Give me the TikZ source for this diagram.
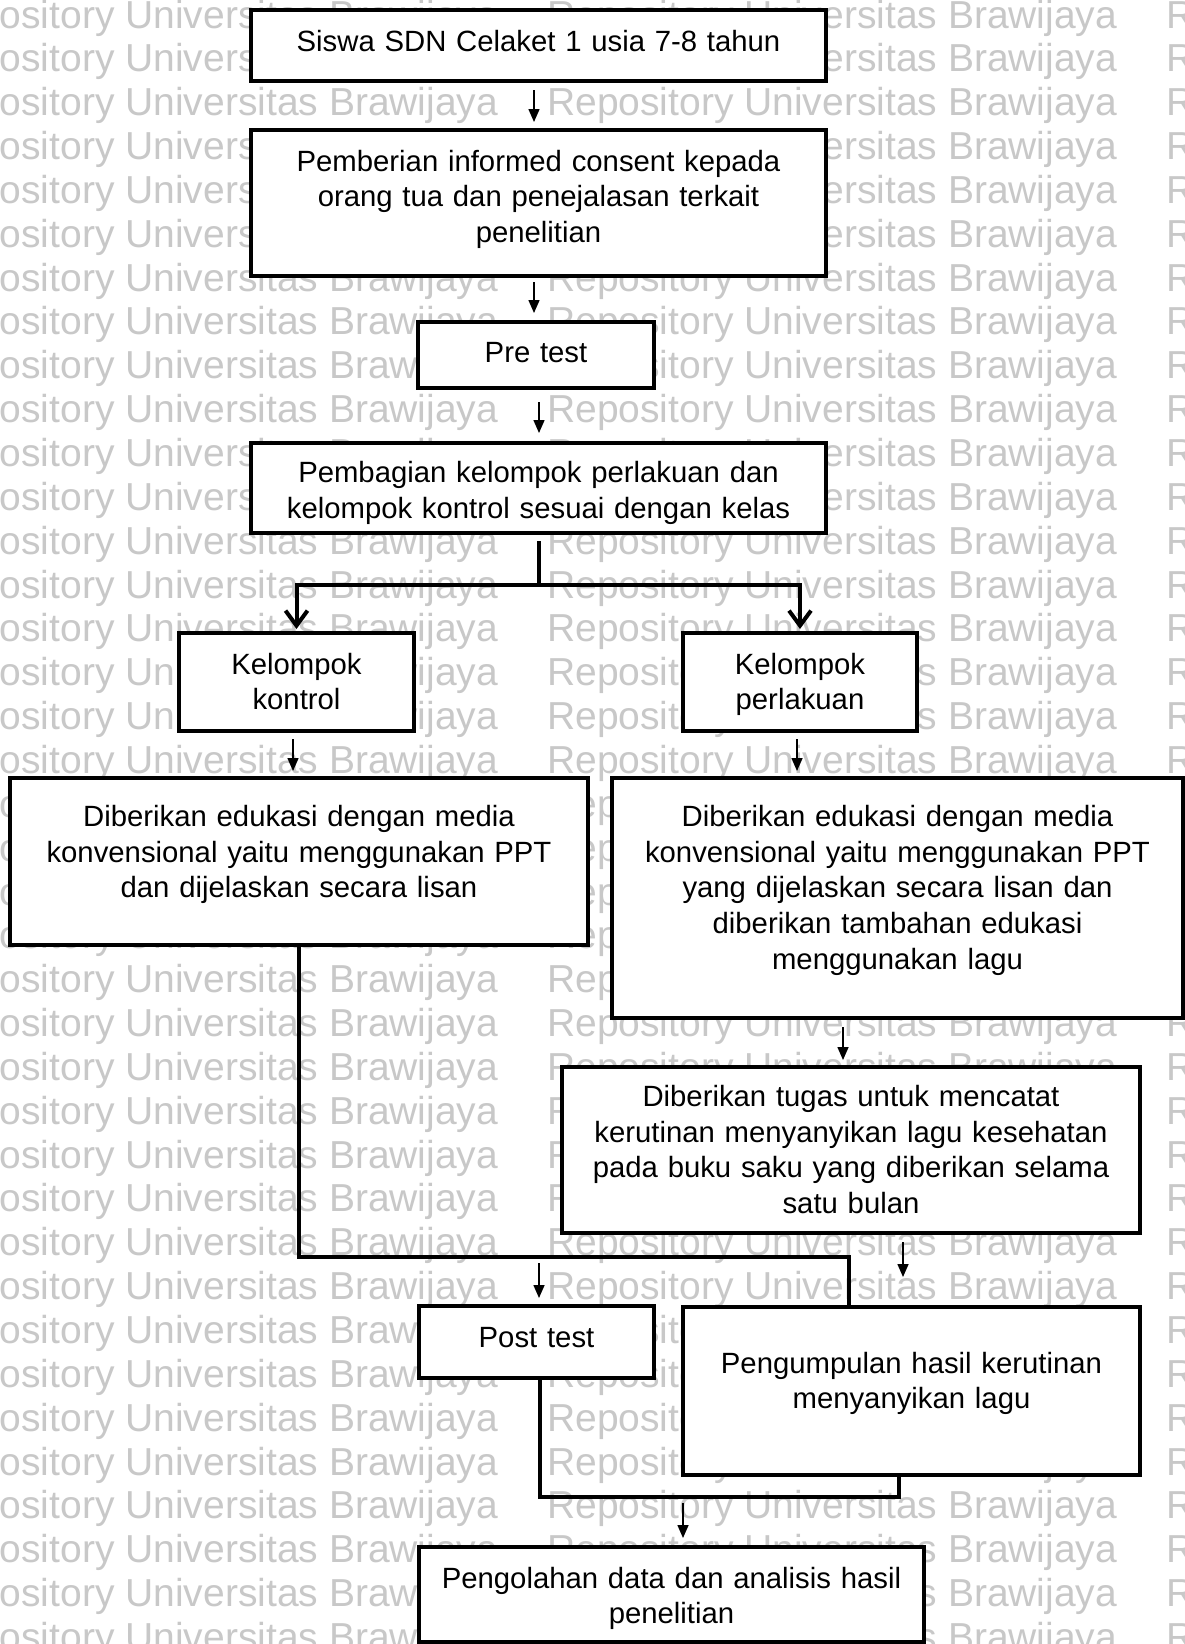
\documentclass[tikz,border=0pt]{standalone}
\usepackage{fontspec}
\setmainfont{Liberation Sans}
\usetikzlibrary{arrows.meta,calc}
\definecolor{wmgray}{RGB}{200,200,200}
\newcommand\boxfont{\fontsize{29.3}{35.7}\selectfont}
\newcommand\wmfont{\fontsize{39}{44}\selectfont}
\begin{document}
\begin{tikzpicture}[x=1pt,y=-1pt,
  box/.style={draw=black, fill=white, line width=4pt, rectangle, inner sep=0pt},
  txt/.style={anchor=base, align=center, font=\boxfont, inner sep=0pt, text=black},
  wm/.style={anchor=base west, font=\wmfont, text=wmgray, inner sep=0pt},
  thinarr/.style={line width=1.5pt, -{Triangle[width=11pt,length=13pt]}},
  thickline/.style={line width=4pt},
  thickv/.style={line width=4pt, -{Straight Barb[length=15pt,width=22pt]}},
]
\useasboundingbox (0,0) rectangle (1185,1644);
\fill[white] (0,0) rectangle (1185,1644);
% watermark
\begin{scope}
\clip (0,0) rectangle (1185,1644);
\foreach \k in {0,...,37}{
  \pgfmathsetmacro\yy{28+43.85*\k}
  \node[wm] (wma\k) at (-72,\yy) {Repository Universitas Brawijaya};
  \node[wm] (wmb\k) at (547,\yy) {Repository Universitas Brawijaya};
  \node[wm] (wmc\k) at (1166,\yy) {Repository Universitas Brawijaya};
}
\end{scope}

% boxes
\node[box, minimum width=575pt, minimum height=71pt]  (b1)  at (538.5,45.5) {};
\node[box, minimum width=575pt, minimum height=146pt] (b2)  at (538.5,203) {};
\node[box, minimum width=236pt, minimum height=66pt]  (b3)  at (536,355) {};
\node[box, minimum width=575pt, minimum height=90pt]  (b4)  at (538.5,488) {};
\node[box, minimum width=235pt, minimum height=98pt]  (b5)  at (296.5,682) {};
\node[box, minimum width=234pt, minimum height=98pt]  (b6)  at (800,682) {};
\node[box, minimum width=578pt, minimum height=167pt] (b7)  at (299,861.5) {};
\node[box, minimum width=571pt, minimum height=240pt] (b8)  at (897.5,898) {};
\node[box, minimum width=578pt, minimum height=166pt] (b9)  at (851,1150) {};
\node[box, minimum width=235pt, minimum height=72pt]  (b10) at (536.5,1342) {};
\node[box, minimum width=457pt, minimum height=168pt] (b11) at (911.5,1391) {};
\node[box, minimum width=505pt, minimum height=95pt]  (b12) at (671.5,1594.5) {};

% texts
\node[txt, text width=560pt] (b1t) at (538.5,51) {Siswa SDN Celaket 1 usia 7-8 tahun};
\node[txt, text width=560pt] (b2t) at (538.5,171) {Pemberian informed consent kepada\\orang tua dan penejalasan terkait\\penelitian};
\node[txt, text width=220pt] (b3t) at (536,362.5) {Pre test};
\node[txt, text width=560pt] (b4t) at (538.5,482.5) {Pembagian kelompok perlakuan dan\\kelompok kontrol sesuai dengan kelas};
\node[txt, text width=220pt] (b5t) at (296.5,674) {Kelompok\\kontrol};
\node[txt, text width=220pt] (b6t) at (800,674) {Kelompok\\perlakuan};
\node[txt, text width=560pt] (b7t) at (299,826.5) {Diberikan edukasi dengan media\\konvensional yaitu menggunakan PPT\\dan dijelaskan secara lisan};
\node[txt, text width=555pt] (b8t) at (897.5,826.5) {Diberikan edukasi dengan media\\konvensional yaitu menggunakan PPT\\yang dijelaskan secara lisan dan\\diberikan tambahan edukasi\\menggunakan lagu};
\node[txt, text width=560pt] (b9t) at (851,1106.5) {Diberikan tugas untuk mencatat\\kerutinan menyanyikan lagu kesehatan\\pada buku saku yang diberikan selama\\satu bulan};
\node[txt, text width=220pt] (b10t) at (536.5,1347.5) {Post test};
\node[txt, text width=440pt] (b11t) at (911.5,1373) {Pengumpulan hasil kerutinan\\menyanyikan lagu};
\node[txt, text width=490pt] (b12t) at (671.5,1588) {Pengolahan data dan analisis hasil\\penelitian};

% junction coordinates
\coordinate (split) at (539,585);
\coordinate (j1) at (849,1257);
\coordinate (j2) at (539,1257);
\coordinate (j3) at (540,1497);
\coordinate (j4) at (899,1497);
\coordinate (j5) at (683,1497);
\coordinate (a9end) at (903,1277);

% thin arrows between boxes
\draw[thinarr, shorten <=7pt, shorten >=6pt] (534,0 |- b1.south) -- (534,0 |- b2.north);
\draw[thinarr, shorten <=4pt, shorten >=7pt] (534,0 |- b2.south) -- (534,0 |- b3.north);
\draw[thinarr, shorten <=12pt, shorten >=8pt] (539,0 |- b3.south) -- (539,0 |- b4.north);
\draw[thinarr, shorten <=6pt, shorten >=5pt] (293,0 |- b5.south) -- (293,0 |- b7.north);
\draw[thinarr, shorten <=6pt, shorten >=5pt] (797,0 |- b6.south) -- (797,0 |- b8.north);
\draw[thinarr, shorten <=7pt, shorten >=5pt] (843,0 |- b8.south) -- (843,0 |- b9.north);
\draw[thinarr, shorten <=7pt] (a9end |- b9.south) -- (a9end);

% split after grouping
\draw[thickline, shorten <=6pt] (split |- b4.south) -- (split);
\draw[thickv, shorten >=2pt] (split) -| (b5.north);
\draw[thickv, shorten >=2pt] (split) -| (b6.north);

% control branch line
\draw[thickline] (b7.south) |- (j1) -- (j1 |- b11.north);
\draw[thinarr, shorten <=6pt, shorten >=6pt] (j2) -- (j2 |- b10.north);

% bottom loop
\draw[thickline] (j3 |- b10.south) -- (j3) -- (j4) -- (j4 |- b11.south);
\draw[thinarr, shorten <=6pt, shorten >=7pt] (j5) -- (j5 |- b12.north);
\end{tikzpicture}
\end{document}
